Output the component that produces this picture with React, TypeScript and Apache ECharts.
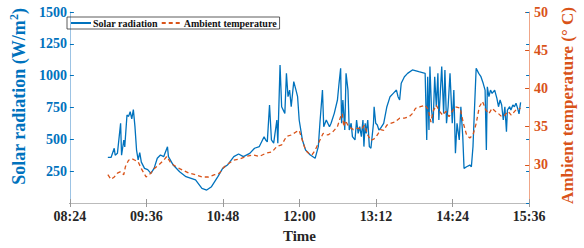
import React, { useEffect, useRef } from "react";
import * as echarts from "echarts";

// time in minutes after midnight
const solarTime = [
  539.7, 542.7, 545.7, 546.6, 548.7, 551.7, 552.6, 554.7, 555.6, 557.7, 559.2, 560.7, 562.2, 563.7, 565.2,
  566.7, 568.2, 569.7, 571.2, 574.2, 577.2, 580.2, 583.2, 586.2, 589.2, 592.2, 595.8, 596.7, 601.2, 607.2,
  613.2, 622.2, 628.2, 632.7, 637.2, 643.2, 647.7, 652.2, 658.2, 662.7, 667.2, 673.2, 677.7, 682.2, 686.7,
  688.2, 689.7, 691.8, 693.6, 695.7, 698.7, 699.6, 701.7, 703.2, 706.2, 707.7, 709.2, 710.7, 712.2, 714.6,
  716.7, 718.2, 719.7, 722.7, 725.7, 730.2, 734.7, 737.7, 739.2, 741.6, 742.8, 745.2, 748.2, 749.7, 752.7,
  755.7, 757.2, 758.7, 759.6, 760.8, 762.6, 763.8, 765.6, 766.8, 768.6, 769.8, 772.2, 773.7, 775.2, 776.7,
  778.2, 779.7, 780.6, 781.8, 782.7, 784.2, 785.7, 787.2, 789.6, 790.2, 791.7, 793.2, 794.7, 796.2, 799.2,
  802.2, 805.2, 808.2, 811.2, 812.7, 814.2, 815.7, 818.7, 821.7, 826.2, 832.2, 838.2, 839.7, 840.6, 841.8,
  842.7, 844.2, 845.7, 847.2, 848.7, 850.2, 851.1, 852.6, 853.8, 855.6, 856.8, 858.3, 859.8, 861.6, 863.7,
  865.2, 866.7, 868.2, 870.3, 871.8, 873.6, 874.8, 877.2, 880.2, 881.7, 883.2, 884.7, 886.2, 888.6, 890.7,
  892.8, 894.6, 895.8, 896.7, 898.2, 899.7, 901.2, 903.6, 905.7, 907.2, 908.7, 910.2, 911.7, 913.2, 914.7,
  915.6, 917.7, 918.9, 920.7, 922.2, 923.7, 925.2, 926.5, 928.0,
];
const solarValue = [
  359, 358, 430, 375, 390, 626, 375, 495, 440, 691, 680, 717, 660, 733, 600,
  416, 338, 396, 321, 272, 262, 233, 272, 351, 377, 364, 442, 364, 298, 246,
  207, 181, 115, 102, 128, 207, 272, 298, 364, 385, 364, 390, 430, 443, 521,
  495, 480, 770, 495, 470, 652, 470, 1084, 756, 704, 1018, 835, 887, 756, 953,
  887, 835, 652, 495, 416, 377, 351, 443, 626, 887, 599, 652, 599, 626, 704,
  809, 940, 1058, 626, 809, 573, 1018, 887, 573, 626, 521, 495, 652, 547, 599,
  521, 652, 443, 626, 547, 652, 443, 430, 626, 756, 626, 613, 573, 586, 626,
  756, 835, 861, 887, 835, 809, 940, 992, 1018, 1045, 1031, 1018, 495, 992, 573,
  1071, 730, 626, 992, 756, 1018, 652, 887, 1071, 704, 1045, 626, 756, 1018, 626,
  887, 390, 626, 495, 756, 521, 272, 285, 298, 285, 442, 756, 1058, 1018, 992,
  940, 887, 416, 913, 835, 887, 861, 887, 822, 756, 809, 770, 652, 756, 560,
  730, 756, 730, 770, 756, 783, 743, 700, 790,
];

const tempTime = [
  539.7, 542.7, 545.7, 548.7, 551.7, 554.7, 556.2, 559.2, 562.2, 565.2, 568.2, 571.2, 575.7, 580.2, 583.2,
  587.7, 592.2, 595.2, 598.2, 601.2, 604.2, 607.2, 611.7, 616.2, 622.2, 628.2, 634.2, 640.2, 644.7, 649.2,
  653.7, 658.2, 664.2, 670.2, 676.2, 682.2, 688.2, 694.2, 698.7, 703.2, 707.7, 712.2, 716.7, 719.7, 722.7,
  725.7, 728.7, 731.7, 734.7, 737.7, 742.2, 746.7, 751.2, 755.7, 758.7, 760.2, 761.7, 763.2, 766.2, 770.7,
  775.2, 778.2, 781.2, 784.2, 787.2, 790.2, 793.2, 796.2, 799.2, 802.2, 805.2, 809.7, 814.2, 818.7, 823.2,
  826.2, 829.2, 833.7, 838.2, 841.2, 843.6, 845.7, 848.7, 851.7, 854.7, 857.7, 860.7, 863.7, 866.7, 871.2,
  874.2, 877.2, 880.2, 883.2, 886.2, 889.2, 892.2, 895.2, 898.2, 901.2, 904.2, 907.2, 910.2, 913.2, 916.2,
  919.2, 923.7, 928.0,
];
const tempValue = [
  28.7, 28.1, 28.4, 28.9, 29.1, 28.7, 29.75, 30.6, 30.8, 30.6, 30.4, 29.5, 28.4, 28.9, 29.5,
  30.0, 30.6, 31.1, 30.4, 30.0, 29.75, 29.5, 29.2, 28.9, 28.7, 28.4, 28.4, 28.7, 28.9, 29.75,
  30.2, 30.6, 30.8, 31.1, 31.3, 31.1, 31.5, 31.7, 32.4, 32.6, 33.7, 33.9, 34.3, 34.5, 33.2,
  31.9, 31.5, 31.3, 31.9, 32.8, 34.1, 33.9, 34.3, 35.0, 36.3, 36.7, 35.0, 35.8, 35.0, 34.6,
  34.8, 34.6, 35.2, 33.9, 33.2, 33.4, 33.9, 34.6, 34.5, 35.2, 35.4, 35.6, 36.1, 36.1, 36.3,
  36.7, 37.4, 37.6, 37.8, 37.2, 35.6, 37.0, 37.8, 37.0, 36.5, 37.0, 36.3, 37.0, 37.6, 37.4,
  35.4, 33.9, 33.5, 33.9, 35.4, 37.6, 38.3, 37.2, 36.7, 37.4, 37.0, 36.7, 36.3, 36.5, 37.0,
  36.5, 37.2, 37.4,
];

const xMin = 504; // 08:24
const xMax = 936; // 15:36
const xStep = 72;

const BLUE = "#0072BD";
const ORANGE = "#D95319";
const FONT = "Liberation Serif";

const fmtTime = (m: number) => {
  const h = Math.floor(m / 60);
  const mm = Math.round(m % 60);
  return `${String(h).padStart(2, "0")}:${String(mm).padStart(2, "0")}`;
};

export default function App() {
  const ref = useRef<HTMLDivElement>(null);
  useEffect(() => {
    if (!ref.current) return;
    const chart = echarts.init(ref.current, undefined, { renderer: "svg" });
    chart.setOption({
      animation: false,
      grid: { left: 62, right: 42, top: 12, bottom: 45 },
      legend: {
        left: 67,
        top: 17,
        padding: [1, 3, 1, 3],
        itemGap: 3,
        itemWidth: 20,
        itemHeight: 2,
        borderColor: "#333",
        borderWidth: 0.8,
        itemStyle: { opacity: 0 },
        textStyle: { fontFamily: FONT, fontWeight: "bold", fontSize: 10, color: "#111", padding: [0, 0, 0, -3] },
        data: ["Solar radiation", "Ambient temperature"],
      },
      xAxis: [
        {
          type: "value",
          min: xMin,
          max: xMax,
          interval: xStep,
          name: "Time",
          nameLocation: "middle",
          nameGap: 25,
          nameTextStyle: { fontFamily: FONT, fontWeight: "bold", fontSize: 15, color: "#262626" },
          axisLine: { lineStyle: { color: "#262626", width: 1 } },
          axisTick: { inside: true, length: 4, lineStyle: { color: "#999" } },
          axisLabel: {
            formatter: (v: number) => fmtTime(v),
            fontFamily: FONT,
            fontWeight: "bold",
            fontSize: 14,
            color: "#262626",
            margin: 6,
          },
          splitLine: { show: false },
        },
        {
          type: "value",
          position: "top",
          min: xMin,
          max: xMax,
          interval: xStep,
          axisLine: { lineStyle: { color: "#bbb", width: 1 } },
          axisTick: { inside: true, length: 4, lineStyle: { color: "#999" } },
          axisLabel: { show: false },
          splitLine: { show: false },
        },
      ],
      yAxis: [
        {
          type: "value",
          position: "left",
          min: 0,
          max: 1500,
          interval: 250,
          name: "Solar radiation (W/m{sup|2})",
          nameLocation: "middle",
          nameRotate: 90,
          nameGap: 38,
          nameTextStyle: {
            fontFamily: FONT,
            fontWeight: "bold",
            fontSize: 18,
            color: BLUE,
            padding: [0, 0, 0, 22],
            rich: {
              sup: { fontFamily: FONT, fontWeight: "bold", fontSize: 12, color: BLUE, padding: [0, 0, 10, 0] },
            },
          },
          axisLine: { show: true, lineStyle: { color: "#9cc3e4", width: 1 } },
          axisTick: { inside: true, length: 4, lineStyle: { color: BLUE } },
          axisLabel: {
            showMinLabel: false,
            formatter: (v: number) => String(v),
            fontFamily: FONT,
            fontWeight: "bold",
            fontSize: 14,
            color: BLUE,
            margin: 3,
          },
          splitLine: { show: false },
        },
        {
          type: "value",
          position: "right",
          min: 25,
          max: 50,
          interval: 5,
          name: "Ambient temperature (° C)",
          nameLocation: "middle",
          nameRotate: 90,
          nameGap: 25,
          nameTextStyle: { fontFamily: FONT, fontWeight: "bold", fontSize: 17, color: ORANGE, padding: [0, 0, 0, 4] },
          axisLine: { show: true, lineStyle: { color: "#f0a688", width: 1 } },
          axisTick: { inside: true, length: 4, lineStyle: { color: ORANGE } },
          axisLabel: {
            showMinLabel: false,
            formatter: (v: number) => String(v),
            fontFamily: FONT,
            fontWeight: "bold",
            fontSize: 14,
            color: ORANGE,
            margin: 5,
          },
          splitLine: { show: false },
        },
        {
          type: "value",
          position: "right",
          min: 0,
          max: 1500,
          interval: 250,
          axisLine: { show: false },
          axisTick: { inside: true, length: 3, lineStyle: { color: BLUE } },
          axisLabel: { show: false },
          splitLine: { show: false },
        },
      ],
      series: [
        {
          name: "Solar radiation",
          type: "line",
          xAxisIndex: 0,
          yAxisIndex: 0,
          symbol: "none",
          lineStyle: { color: BLUE, width: 1.3 },
          itemStyle: { color: BLUE },
          data: solarTime.map((t, i) => [t, solarValue[i]]),
          z: 2,
        },
        {
          name: "Ambient temperature",
          type: "line",
          xAxisIndex: 0,
          yAxisIndex: 1,
          symbol: "none",
          lineStyle: { color: ORANGE, width: 1.3, type: [4, 3] },
          itemStyle: { color: ORANGE },
          data: tempTime.map((t, i) => [t, tempValue[i]]),
          z: 3,
        },
      ],
    });
    return () => chart.dispose();
  }, []);
  return <div ref={ref} style={{ position: "absolute", left: 0, top: 0, width: 584, height: 248 }} />;
}
